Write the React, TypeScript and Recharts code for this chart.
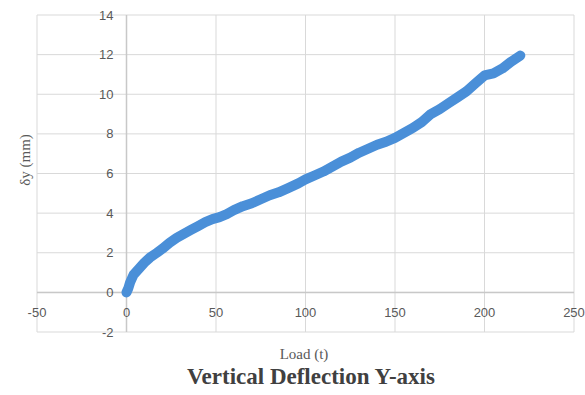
import React from "react";
import { LineChart, Line, XAxis, YAxis, CartesianGrid, ReferenceLine } from "recharts";

const loads = [0, 1, 2, 4, 7, 10, 13, 17, 20, 24, 28, 32, 36, 40, 44, 48, 52, 56, 60, 65, 70, 75, 80, 85, 90, 96, 100, 105, 110, 115, 120, 125, 130, 135, 140, 145, 150, 155, 160, 165, 170, 175, 180, 185, 190, 195, 200, 205, 210, 215, 220];
const deflections = [0, 0.2, 0.5, 0.9, 1.2, 1.5, 1.75, 2.0, 2.2, 2.5, 2.75, 2.95, 3.15, 3.35, 3.55, 3.7, 3.8, 3.95, 4.15, 4.35, 4.5, 4.7, 4.9, 5.05, 5.25, 5.5, 5.7, 5.9, 6.1, 6.35, 6.6, 6.8, 7.05, 7.25, 7.45, 7.6, 7.8, 8.05, 8.3, 8.6, 9.0, 9.25, 9.55, 9.85, 10.15, 10.55, 10.95, 11.05, 11.3, 11.65, 11.95];

const xTicks = [-50, 0, 50, 100, 150, 200, 250];
const yTicks = [-2, 0, 2, 4, 6, 8, 10, 12, 14];
const xDomain: [number, number] = [-50, 250];
const yDomain: [number, number] = [-2, 14];

const title = "Vertical Deflection Y-axis";
const xTitle = "Load (t)";
const yTitle = "δy (mm)";

const data = loads.map((l, i) => ({ load: l, dy: deflections[i] }));

const W = 585;
const H = 395;
const M = { top: 15, right: 11, left: 36, bottom: 62 };
const plotLeft = 37;
const plotRight = W - 11;
const plotTop = 15;
const plotBottom = 332;
const zeroX = plotLeft + ((plotRight - plotLeft) * (0 - xDomain[0])) / (xDomain[1] - xDomain[0]);
const zeroY = plotTop + ((plotBottom - plotTop) * (yDomain[1] - 0)) / (yDomain[1] - yDomain[0]);

const tickFont = "'Liberation Sans', Arial, sans-serif";
const serif = "'Liberation Serif', 'Times New Roman', serif";

const renderXTick = (props: any) => {
  const { x, payload } = props;
  return (
    <text x={x} y={zeroY + 25} textAnchor="middle" fontFamily={tickFont} fontSize={13} fill="#595959">
      {payload.value}
    </text>
  );
};

const renderYTick = (props: any) => {
  const { y, payload } = props;
  return (
    <text x={zeroX - 13} y={y + 4.5} textAnchor="end" fontFamily={tickFont} fontSize={13} fill="#595959">
      {payload.value}
    </text>
  );
};

export default function App() {
  return (
    <div style={{ position: "absolute", left: 0, top: 0, width: W, height: H, background: "#fff" }}>
      <LineChart width={W} height={H} data={data} margin={M}>
        <CartesianGrid stroke="#d9d9d9" strokeWidth={1} />
        <XAxis
          type="number"
          dataKey="load"
          domain={xDomain}
          ticks={xTicks}
          height={1}
          axisLine={false}
          tickLine={false}
          tick={renderXTick}
          interval={0}
        />
        <YAxis
          type="number"
          domain={yDomain}
          ticks={yTicks}
          width={1}
          axisLine={false}
          tickLine={false}
          tick={renderYTick}
          interval={0}
        />
        <ReferenceLine x={0} stroke="#c8c8c8" strokeWidth={1.5} />
        <ReferenceLine y={0} stroke="#c8c8c8" strokeWidth={1.5} />
        <Line
          type="linear"
          dataKey="dy"
          stroke="#4a8fd8"
          strokeWidth={10}
          strokeLinecap="round"
          strokeLinejoin="round"
          dot={false}
          isAnimationActive={false}
        />
      </LineChart>
      <div
        style={{
          position: "absolute",
          left: 25,
          top: 160,
          transform: "translate(-50%, -50%) rotate(-90deg)",
          fontFamily: serif,
          fontSize: 15,
          color: "#595959",
          whiteSpace: "nowrap",
        }}
      >
        {yTitle}
      </div>
      <div
        style={{
          position: "absolute",
          left: 304,
          top: 354,
          transform: "translate(-50%, -50%)",
          fontFamily: serif,
          fontSize: 15,
          color: "#595959",
          whiteSpace: "nowrap",
        }}
      >
        {xTitle}
      </div>
      <div
        style={{
          position: "absolute",
          left: 311,
          top: 377,
          transform: "translate(-50%, -50%)",
          fontFamily: serif,
          fontSize: 23,
          fontWeight: "bold",
          color: "#404040",
          whiteSpace: "nowrap",
        }}
      >
        {title}
      </div>
    </div>
  );
}
